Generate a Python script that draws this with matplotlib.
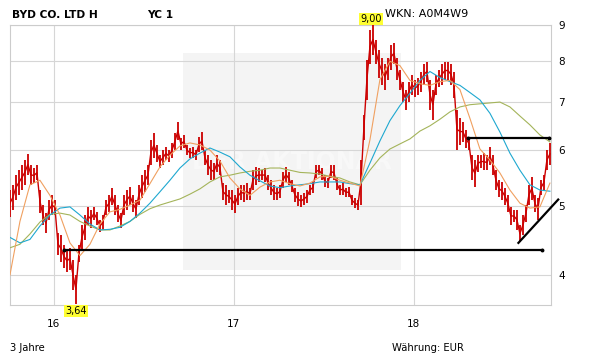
import numpy as np
import matplotlib
matplotlib.use("Agg")
import matplotlib.pyplot as plt
from matplotlib.patches import Rectangle
from matplotlib.ticker import FixedLocator, FixedFormatter, NullLocator

# ---------------- data ----------------
t_first, t_last = 2015.757, 2018.757          # span of the price series (years)
x_min, x_max = 2015.759, 2018.763              # visible range

price_hi = [5.27, 5.36, 5.53, 5.62, 5.71, 5.81, 5.92, 5.71, 5.66, 5.71,
            5.27, 5.02, 4.89, 5.10, 5.18, 5.10, 4.58, 4.55, 4.41, 4.34,
            4.37, 4.20, 4.00, 4.41, 4.70, 4.86, 4.99, 4.94, 4.99, 4.91,
            4.78, 4.86, 5.10, 5.18, 5.31, 5.18, 5.02, 4.89, 5.18, 5.27,
            5.32, 5.18, 5.10, 5.36, 5.53, 5.62, 5.71, 6.20, 6.34, 6.10,
            5.90, 6.00, 6.06, 6.00, 6.14, 6.34, 6.57, 6.24, 6.30, 6.10,
            6.04, 6.06, 6.00, 6.26, 6.36, 6.00, 5.90, 5.81, 5.75, 5.90,
            5.81, 5.39, 5.36, 5.27, 5.27, 5.18, 5.31, 5.36, 5.36, 5.39,
            5.31, 5.62, 5.67, 5.66, 5.62, 5.66, 5.53, 5.44, 5.36, 5.31,
            5.36, 5.58, 5.67, 5.58, 5.44, 5.31, 5.24, 5.18, 5.22, 5.27,
            5.36, 5.41, 5.71, 5.71, 5.66, 5.53, 5.48, 5.71, 5.71, 5.48,
            5.36, 5.39, 5.31, 5.32, 5.18, 5.13, 5.10, 5.81, 6.72, 8.04,
            8.86, 9.00, 8.58, 8.31, 8.09, 7.92, 8.09, 8.44, 8.50, 8.09,
            7.79, 7.49, 7.30, 7.49, 7.66, 7.54, 7.59, 7.74, 7.92, 7.99,
            7.54, 7.30, 7.66, 7.79, 7.92, 7.99, 7.99, 7.92, 7.74, 6.83,
            6.65, 6.57, 6.40, 6.26, 5.90, 5.81, 5.90, 5.90, 5.94, 5.90,
            6.06, 5.90, 5.62, 5.44, 5.41, 5.31, 5.18, 4.99, 4.94, 4.94,
            4.70, 4.86, 5.02, 5.36, 5.50, 5.18, 5.13, 5.44, 5.53, 6.00,
            6.14]
price_lo = [4.83, 4.94, 5.10, 5.18, 5.27, 5.36, 5.53, 5.36, 5.39, 5.44,
            4.89, 4.70, 4.58, 4.78, 4.86, 4.86, 4.27, 4.17, 4.09, 4.04,
            4.07, 3.81, 3.64, 4.17, 4.34, 4.48, 4.70, 4.66, 4.78, 4.70,
            4.60, 4.63, 4.86, 4.91, 5.02, 4.86, 4.75, 4.66, 4.86, 4.94,
            5.02, 4.91, 4.81, 5.02, 5.13, 5.24, 5.36, 5.71, 5.85, 5.77,
            5.66, 5.71, 5.81, 5.77, 5.85, 6.00, 6.20, 6.00, 6.04, 5.90,
            5.85, 5.85, 5.81, 5.96, 6.00, 5.71, 5.53, 5.44, 5.44, 5.59,
            5.53, 5.10, 5.02, 5.05, 4.94, 4.89, 5.02, 5.10, 5.07, 5.10,
            5.10, 5.27, 5.36, 5.41, 5.44, 5.41, 5.27, 5.18, 5.10, 5.10,
            5.13, 5.31, 5.41, 5.36, 5.24, 5.07, 5.00, 4.99, 5.02, 5.05,
            5.18, 5.22, 5.48, 5.53, 5.44, 5.32, 5.31, 5.48, 5.44, 5.27,
            5.18, 5.18, 5.15, 5.15, 5.02, 4.97, 4.94, 5.02, 6.20, 7.06,
            7.92, 8.17, 7.92, 7.59, 7.42, 7.30, 7.54, 7.79, 7.92, 7.54,
            7.30, 7.02, 6.83, 7.02, 7.18, 7.13, 7.18, 7.25, 7.42, 7.49,
            6.83, 6.61, 7.18, 7.35, 7.42, 7.54, 7.54, 7.42, 7.11, 6.00,
            6.10, 6.16, 6.04, 6.00, 5.44, 5.32, 5.59, 5.66, 5.62, 5.62,
            5.71, 5.53, 5.27, 5.15, 5.10, 5.02, 4.91, 4.70, 4.75, 4.63,
            4.45, 4.55, 4.75, 5.02, 5.10, 4.91, 4.78, 5.18, 5.27, 5.62,
            5.71]

ma_fast = [4.00, 4.76, 5.36, 5.44, 5.18, 4.86, 4.44, 4.26, 4.42, 4.72,
           4.91, 4.95, 5.02, 5.10, 5.38, 5.68, 5.90, 6.08, 6.14, 6.10,
           6.00, 5.79, 5.48, 5.29, 5.18, 5.32, 5.41, 5.44, 5.38, 5.34,
           5.39, 5.50, 5.51, 5.44, 5.39, 5.34, 6.20, 7.54, 8.00, 7.89,
           7.52, 7.44, 7.40, 7.49, 7.52, 7.30, 6.65, 6.02, 5.81, 5.57,
           5.27, 5.05, 4.97, 4.99, 5.39]
ma_mid = [4.52, 4.44, 4.49, 4.69, 4.86, 4.97, 4.99, 4.86, 4.72, 4.63,
          4.64, 4.67, 4.76, 4.89, 5.05, 5.24, 5.44, 5.66, 5.83, 5.94,
          6.04, 5.96, 5.87, 5.68, 5.53, 5.43, 5.34, 5.31, 5.34, 5.36,
          5.38, 5.41, 5.41, 5.41, 5.38, 5.36, 5.75, 6.18, 6.60, 6.93,
          7.21, 7.52, 7.74, 7.59, 7.49, 7.40, 7.23, 7.06, 6.76, 6.36,
          5.94, 5.62, 5.36, 5.27, 5.25]
ma_slow = [4.37, 4.42, 4.57, 4.75, 4.87, 4.89, 4.86, 4.76, 4.69, 4.63,
           4.63, 4.69, 4.76, 4.87, 4.96, 5.02, 5.07, 5.12, 5.20, 5.29,
           5.41, 5.50, 5.53, 5.57, 5.60, 5.62, 5.66, 5.66, 5.62, 5.58,
           5.57, 5.55, 5.51, 5.48, 5.41, 5.36, 5.62, 5.85, 6.02, 6.12,
           6.22, 6.38, 6.49, 6.63, 6.79, 6.90, 6.95, 6.97, 6.99, 7.01,
           6.90, 6.70, 6.51, 6.30, 6.16]

support_t, support_v = [2016.059, 2018.711], [4.34, 4.34]
resist_t, resist_v = [2018.303, 2018.752], [6.23, 6.23]
trend_t, trend_v = [2018.582, 2018.803], [4.44, 5.11]

y_ticks = [4, 5, 6, 7, 8, 9]
y_labels = ["4", "5", "6", "7", "8", "9"]
x_ticks = [2016, 2017, 2018]
x_labels = ["16", "17", "18"]
y_min, y_max = 3.63, 9.0

# ---------------- figure ----------------
W, H = 611, 364
fig = plt.figure(figsize=(W / 100, H / 100), dpi=100)
fig.patch.set_facecolor("white")
ax = fig.add_axes([10.3 / W, 1 - 305 / H, (551 - 10.3) / W, (305 - 25) / H])

ax.set_yscale("log")
ax.set_xlim(x_min, x_max)
ax.set_ylim(y_min, y_max)

# watermark area
ax.add_patch(Rectangle((0.32, 0.125), 0.4026, 0.774, transform=ax.transAxes,
                       facecolor="#f4f4f4", edgecolor="none", zorder=0))
ax.text(0.52, 0.51, "DER AKTIONÄR", transform=ax.transAxes, ha="center",
        va="center", fontsize=17, fontweight="bold", color="#f8f8f8", zorder=0.5)

# grid
for yv in y_ticks:
    ax.axhline(yv, color="#d6d6d6", lw=0.8, zorder=1)
for xv in x_ticks:
    ax.axvline(xv, color="#d6d6d6", lw=0.8, zorder=1)

# price bars
tp = np.linspace(t_first, t_last, len(price_hi))
mid = (np.array(price_hi) + np.array(price_lo)) / 2
ax.vlines(tp, price_lo, price_hi, color="#cc0000", lw=1.3, zorder=3)
ax.plot(tp, mid, color="#cc0000", lw=1.0, zorder=3)

# moving averages
tm = np.linspace(t_first, t_last, len(ma_fast))
ax.plot(tm, ma_slow, color="#a4b45a", lw=0.8, zorder=4)
ax.plot(tm, ma_mid, color="#1ea8d0", lw=0.8, zorder=4)
ax.plot(tm, ma_fast, color="#f0a060", lw=0.8, zorder=4)

# trend lines
ax.plot(support_t, support_v, color="black", lw=1.6, zorder=5,
        marker="o", markersize=1.8)
ax.plot(resist_t, resist_v, color="black", lw=1.6, zorder=5,
        marker="o", markersize=1.8)
ax.plot(trend_t, trend_v, color="black", lw=1.6, zorder=5, clip_on=False)

# high / low labels
i_hi = int(np.argmax(price_hi))
i_lo = int(np.argmin(price_lo))
ax.annotate(f"{price_hi[i_hi]:.2f}".replace(".", ","), (tp[i_hi], price_hi[i_hi]),
            xytext=(-1.5, 0.5), textcoords="offset points", ha="center", va="bottom",
            fontsize=7, bbox=dict(boxstyle="square,pad=0.1", fc="#ffff33", ec="none"),
            annotation_clip=False, zorder=6)
ax.annotate(f"{price_lo[i_lo]:.2f}".replace(".", ","), (tp[i_lo], price_lo[i_lo]),
            xytext=(0, -1.5), textcoords="offset points", ha="center", va="top",
            fontsize=7, bbox=dict(boxstyle="square,pad=0.1", fc="#ffff33", ec="none"),
            annotation_clip=False, zorder=6)

# axes styling
for s in ax.spines.values():
    s.set_color("#cccccc")
    s.set_linewidth(0.8)
ax.yaxis.tick_right()
ax.yaxis.set_major_locator(FixedLocator(y_ticks))
ax.yaxis.set_major_formatter(FixedFormatter(y_labels))
ax.yaxis.set_minor_locator(NullLocator())
ax.set_xticks(x_ticks)
ax.set_xticklabels(x_labels)
ax.tick_params(axis="y", length=0, pad=5, labelsize=7.5, colors="black")
ax.tick_params(axis="x", length=0, pad=10, labelsize=7.5, colors="black")

# texts
fig.text(12 / W, 1 - 14.5 / H, "BYD CO. LTD H", fontsize=7.7, fontweight="bold",
         va="center", ha="left")
fig.text(147 / W, 1 - 14.5 / H, "YC 1", fontsize=7.7, fontweight="bold",
         va="center", ha="left")
fig.text(385 / W, 1 - 13.7 / H, "WKN: A0M4W9", fontsize=8, va="center", ha="left")
fig.text(10 / W, 1 - 348 / H, "3 Jahre", fontsize=7.2, va="center", ha="left")
fig.text(392 / W, 1 - 348 / H, "Währung: EUR", fontsize=7.2, va="center", ha="left")

fig.savefig("out.png", dpi=100)
